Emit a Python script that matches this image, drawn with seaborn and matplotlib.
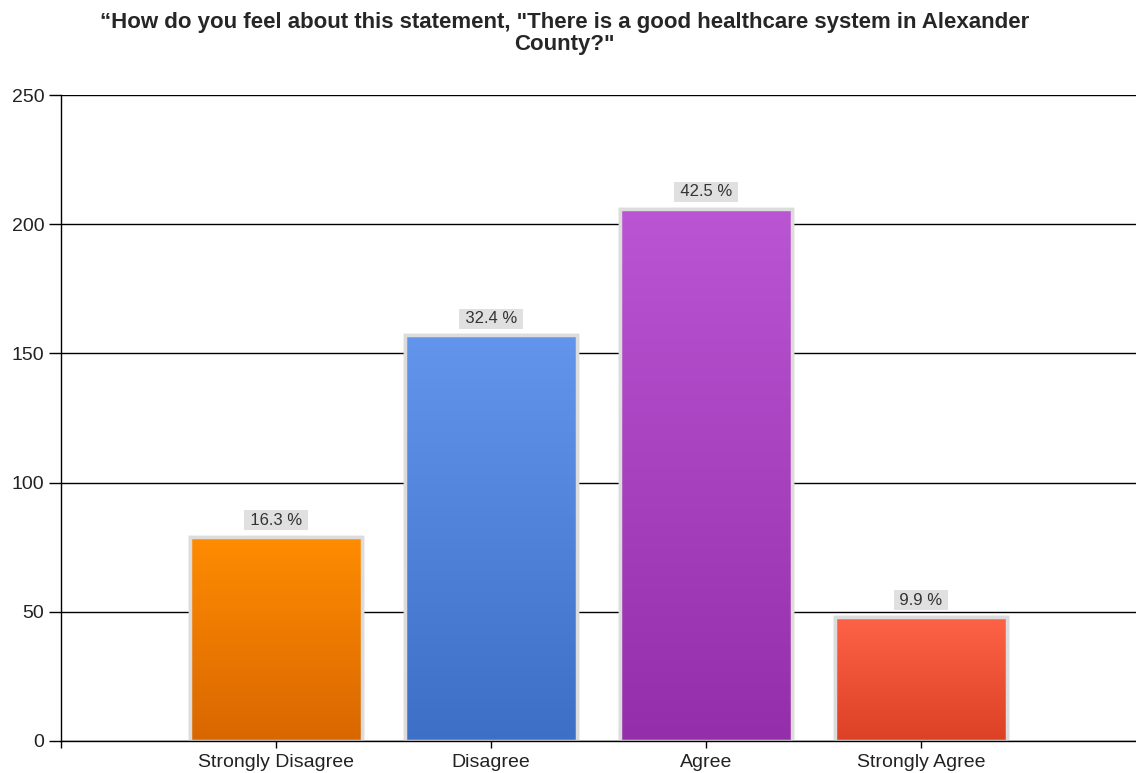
import numpy as np
import pandas as pd
import matplotlib
matplotlib.use("Agg")
import matplotlib.pyplot as plt
import seaborn as sns
from matplotlib.colors import LinearSegmentedColormap

categories = ["Strongly Disagree", "Disagree", "Agree", "Strongly Agree"]
counts = [79, 157, 206, 48]
percent_labels = ["16.3 %", "32.4 %", "42.5 %", "9.9 %"]
top_colors = ["#FF8C00", "#6495ED", "#BA55D3", "#FF6347"]
bottom_colors = ["#D96700", "#3E6FC6", "#952EAA", "#DC4025"]

df = pd.DataFrame({"Answer": categories, "Count": counts})

sns.set_style("white")
plt.rcParams["font.family"] = ["Liberation Sans", "DejaVu Sans"]

fig = plt.figure(figsize=(11.36, 7.73), dpi=100)
ax = fig.add_axes([0.0537, 0.0414, 0.9463, 0.8357])

sns.barplot(data=df, x="Answer", y="Count", hue="Answer", palette=top_colors,
            width=0.8, edgecolor="#dcdcdc", linewidth=2.5, legend=False, ax=ax, zorder=3)

# gradient fill inside each bar (top colour -> bottom colour)
grad = np.linspace(0, 1, 256).reshape(-1, 1)
for patch, c1, c2 in zip(ax.patches, top_colors, bottom_colors):
    x0, y0 = patch.get_x(), patch.get_y()
    w, h = patch.get_width(), patch.get_height()
    cmap = LinearSegmentedColormap.from_list("g", [c1, c2])
    im = ax.imshow(grad, cmap=cmap, aspect="auto", extent=[x0, x0 + w, y0, y0 + h],
                   zorder=3.5, interpolation="bicubic")
    im.set_clip_path(patch)
    edge = plt.Rectangle((x0, y0), w, h, fill=False, edgecolor="#dcdcdc", linewidth=2.5, zorder=4)
    ax.add_patch(edge)

for i, (v, lab) in enumerate(zip(counts, percent_labels)):
    ax.annotate("\u2009" + lab + "\u2009", (i, v), xytext=(0, 6.7), textcoords="offset points",
                ha="center", va="bottom", fontsize=12, color="#333333", zorder=5,
                bbox=dict(boxstyle="square,pad=0.15", fc="#e0e0e0", ec="none"))

ax.set_xlim(-1, 4)
ax.set_ylim(0, 250)
ax.set_yticks([0, 50, 100, 150, 200, 250])
ax.set_xticks([-1, 0, 1, 2, 3])
ax.set_xticklabels([""] + categories)
ax.grid(axis="y", color="black", linewidth=1, zorder=0)
ax.set_axisbelow(True)
for s in ["top", "right"]:
    ax.spines[s].set_visible(False)
for s in ["left", "bottom"]:
    ax.spines[s].set_color("black")
    ax.spines[s].set_linewidth(1)
    ax.spines[s].set_zorder(6)
ax.tick_params(axis="both", direction="out", width=1, color="black",
               labelsize=14, labelcolor="#222222", bottom=True, left=True)
ax.tick_params(axis="x", length=5, pad=4.5)
ax.tick_params(axis="y", length=9, pad=3)
ax.set_xlabel("")
ax.set_ylabel("")

fig.text(0.497, 0.984, "\u201cHow do you feel about this statement, \"There is a good healthcare system in Alexander\nCounty?\"",
         ha="center", va="top", fontsize=16, fontweight="bold", linespacing=1.05)

fig.savefig("out.png", dpi=100)
